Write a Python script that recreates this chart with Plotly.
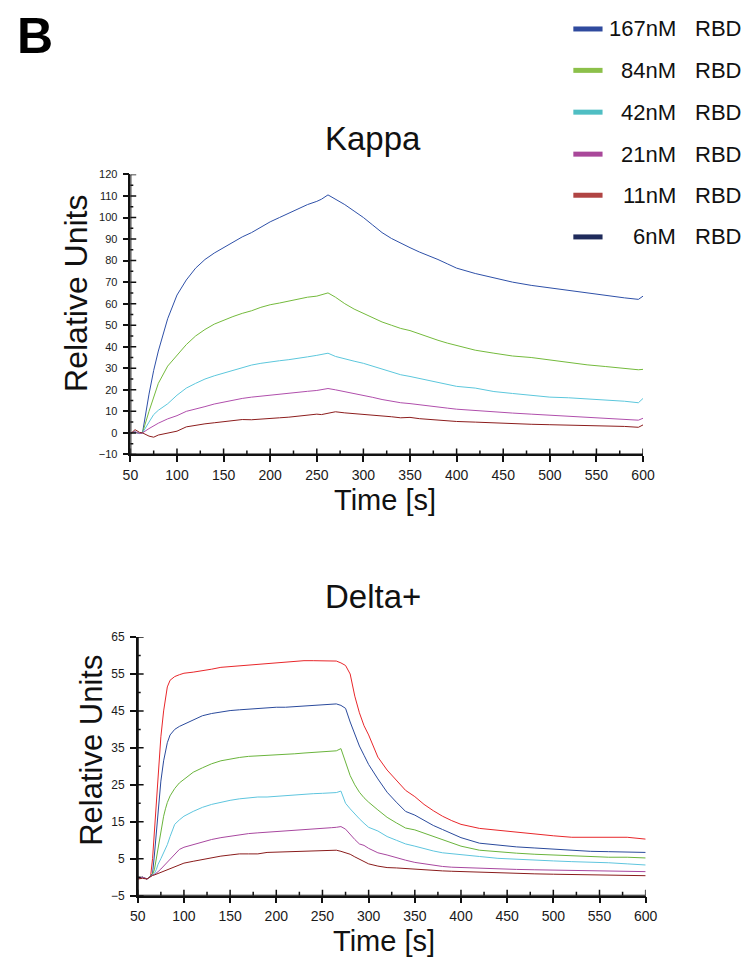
import plotly.graph_objects as go

# ---------------- data ----------------
# Kappa panel
t_kappa = [50, 55, 60, 63, 70, 75, 80, 90, 100, 110, 120, 130, 140, 150, 160, 170, 180, 190, 200,
           210, 220, 230, 240, 250, 255, 262, 270, 280, 290, 300, 310, 320, 330, 340, 350, 360,
           370, 380, 390, 400, 420, 440, 460, 480, 500, 520, 540, 560, 580, 595, 600]
kappa_167 = [0, 0.3, -0.3, 0, 18, 29, 38, 53, 64, 71, 76.5, 80.5, 83.5, 86, 88.5, 91, 93, 95.5, 98,
             100, 102, 104, 106, 107.5, 108.5, 110.5, 108.5, 106, 103, 100, 96.5, 93, 90.3, 88, 86, 84,
             82.3, 80.5, 78.5, 76.5, 74, 72, 70, 68.5, 67.3, 66, 65, 63.8, 62.7, 62, 63.5]
kappa_84 = [0, 0.3, -0.2, 0, 10, 17, 23, 31, 36, 41, 45, 48, 50.5, 52.3, 54, 55.5, 56.7, 58.3, 59.5,
            60.3, 61.3, 62, 63, 63.5, 64, 65, 63, 60, 57.5, 55.5, 53.5, 51.5, 50, 48.5, 47.5, 46,
            44.2, 43, 41.7, 40.7, 38.4, 37, 35.7, 35, 33.8, 32.6, 31.6, 30.8, 30, 29.3, 29.5]
kappa_42 = [0, 0.5, -0.3, 0, 5, 8.5, 10.5, 13.5, 17.5, 20.8, 23, 25, 26.5, 27.8, 29, 30.3, 31.5, 32.3, 33,
            33.5, 34, 34.8, 35.3, 36, 36.3, 37, 35.5, 34.3, 33.3, 32.3, 31, 29.5, 28.2, 27, 26.2, 25.3,
            24.5, 23.5, 22.5, 21.6, 20.8, 19.2, 18.3, 17.5, 16.6, 16.3, 15.8, 15.3, 14.7, 14, 16]
kappa_21 = [0, 0.5, -0.3, 0, 2, 3.3, 4.5, 6.5, 8, 10, 11, 12.2, 13.4, 14.3, 15.2, 16, 16.6, 17.1, 17.6,
            18.1, 18.4, 18.8, 19.3, 19.7, 20, 20.6, 20, 19.2, 18.2, 17.6, 16.5, 15.5, 14.6, 14, 13.6, 13,
            12.5, 12, 11.5, 11, 10.3, 9.8, 9.2, 8.7, 8.2, 7.8, 7.4, 7, 6.5, 5.9, 6.8]
kappa_11 = [-0.5, 1.5, 0.2, 0, -1.5, -2, -1, 0, 0.8, 2.8, 3.6, 4.2, 4.7, 5.2, 6, 6.2, 6.1, 6.5, 6.8,
            7, 7.3, 7.8, 8.2, 8.7, 8.5, 9.2, 9.8, 9.3, 9, 8.7, 8.2, 7.8, 7.5, 7, 7.2, 6.6,
            6.2, 5.8, 5.5, 5.3, 5, 4.6, 4.3, 4, 3.8, 3.6, 3.5, 3.3, 3, 2.6, 3.7]
kappa_series = [kappa_167, kappa_84, kappa_42, kappa_21, kappa_11]
kappa_colors = ["#2e50a8", "#74ba3c", "#5cc7dc", "#b04fac", "#8c1d1d"]

# Delta+ panel
t_delta = [50, 55, 60, 64, 66, 68, 70, 72, 75, 78, 80, 82, 85, 90, 95,
           100, 110, 120, 130, 140, 150, 160, 170, 180, 190, 200, 210, 220, 230, 240, 250, 260,
           265, 270, 275, 280, 285, 290, 295, 300,
           310, 320, 330, 340, 350, 360, 370, 380, 390, 400,
           420, 440, 460, 480, 500, 520, 540, 560, 580, 600]
delta_red = [-0.3, 0, -0.5, 0.5, 5, 12, 20, 28, 38, 45, 48.5, 51.5, 53.3, 54.3, 54.8,
             55.2, 55.5, 55.8, 56.3, 56.8, 57, 57.3, 57.3, 57.5, 57.9, 58, 58.2, 58.4, 58.6, 58.6, 58.6, 58.6,
             58.5, 58, 57.3, 55, 49, 44.5, 41, 38.5,
             32.5, 29, 26.2, 23.5, 21.8, 19.7, 18, 16.5, 15.3, 14.3,
             13.2, 12.7, 12.2, 11.5, 11.2, 10.8, 10.8, 10.9, 10.8, 10.3]
delta_blue = [-0.3, 0, -0.5, 0.5, 1, 6, 12, 18, 26, 31.5, 34, 36.4, 38.5, 40, 40.8,
              41.4, 42.5, 43.7, 44.3, 44.8, 45.1, 45.3, 45.5, 45.7, 45.9, 46, 46, 46.2, 46.3, 46.5, 46.6, 46.8,
              46.9, 46.5, 45.7, 42, 38.5, 35.5, 33, 30.5,
              26.6, 23, 20.3, 17.8, 16.8, 15.4, 14, 12.9, 11.8, 10.7,
              9.2, 8.6, 8.2, 7.9, 7.6, 7.2, 7, 6.9, 6.8, 6.7]
delta_green = [-0.3, 0, -0.5, 0.5, 0.8, 2, 5, 8, 12, 16.5, 18.5, 20.2, 22, 24, 25.5,
               26.5, 28.4, 29.6, 30.7, 31.5, 32, 32.4, 32.7, 32.8, 33.1, 33.2, 33.2, 33.4, 33.6, 33.8, 33.9, 34,
               34.2, 34.8, 31, 27.5, 25, 23, 21.5, 20.3,
               18.2, 16.2, 14.7, 13.3, 12.8, 11.9, 10.9, 10.1, 9.2, 8.4,
               7.3, 6.8, 6.5, 6.2, 6, 5.8, 5.5, 5.4, 5.4, 5.2]
delta_cyan = [-0.3, 0, -0.5, 0.3, 0.5, 1, 2, 3.5, 5, 6.5, 7.5, 8.8, 11, 14.3, 15.5,
              16.5, 17.8, 18.9, 19.7, 20.3, 20.8, 21.2, 21.5, 21.7, 21.7, 21.9, 22.1, 22.3, 22.6, 22.6, 22.7, 22.8,
              22.9, 23.3, 20, 18.5, 17, 15.8, 14.6, 13.5,
              12.5, 11, 10, 9, 8.4, 7.7, 7.1, 6.6, 6.4, 6.2,
              5.6, 5.1, 4.8, 4.6, 4.4, 4.2, 4.1, 3.9, 3.6, 3.3]
delta_magenta = [-0.3, 0, -0.5, 0.3, 0.5, 0.7, 1, 1.5, 2.2, 3, 3.5, 4.2, 5, 6.2, 7.5,
                 8.1, 8.8, 9.6, 10.2, 10.7, 11.1, 11.5, 11.8, 12, 12.2, 12.3, 12.5, 12.7, 12.8, 13, 13.2, 13.4,
                 13.5, 13.7, 13, 11.5, 10.2, 9, 8.6, 7.8,
                 6.6, 6, 5.2, 4.6, 4, 3.6, 3.2, 2.9, 2.7, 2.6,
                 2.3, 2.2, 2.1, 2, 1.9, 1.8, 1.7, 1.7, 1.6, 1.5]
delta_darkred = [-0.5, -0.3, -0.5, 0.3, 0.5, 0.6, 0.8, 1, 1.3, 1.7, 2, 2.2, 2.5, 3, 3.5,
                 3.8, 4.3, 4.8, 5.2, 5.7, 6, 6.3, 6.3, 6.3, 6.7, 6.8, 6.8, 6.9, 7, 7, 7.1, 7.2,
                 7.3, 7, 6.6, 6.2, 5.5, 4.8, 4.3, 3.6,
                 3, 2.6, 2.5, 2.3, 2.2, 2, 1.8, 1.7, 1.6, 1.5,
                 1.3, 1.1, 1, 0.9, 0.8, 0.7, 0.6, 0.6, 0.5, 0.4]
delta_series = [delta_red, delta_blue, delta_green, delta_cyan, delta_magenta, delta_darkred]
delta_colors = ["#e8262a", "#2a4a9c", "#6ab43c", "#5ec5de", "#a8479f", "#8a1c1c"]

legend_conc = ["167nM", "84nM", "42nM", "21nM", "11nM", "6nM"]
legend_colors = ["#2f4a9e", "#8cc04a", "#4fbec3", "#a9489a", "#b04443", "#1f2b5b"]
legend_unit = "RBD"

x_range = [50, 600]
x_major = list(range(50, 601, 50))
x_minor = list(range(75, 576, 50))
kappa_range = [-10, 120]
kappa_major = list(range(-10, 121, 10))
kappa_minor = list(range(-5, 116, 10))
delta_range = [-5, 65]
delta_major = list(range(-5, 66, 10))
delta_minor = list(range(0, 61, 10))

# ---------------- figure ----------------
W, H = 756, 967
FONT = "Liberation Sans, Arial, sans-serif"
AXIS_COLOR = "#111111"


def px(x):
    return x / W


def py(y):
    return 1 - y / H


fig = go.Figure()
for vals, col in zip(kappa_series, kappa_colors):
    fig.add_trace(go.Scatter(x=t_kappa, y=vals, mode="lines", line=dict(color=col, width=1),
                             xaxis="x", yaxis="y", showlegend=False, hoverinfo="skip"))
for vals, col in zip(delta_series, delta_colors):
    fig.add_trace(go.Scatter(x=t_delta, y=vals, mode="lines", line=dict(color=col, width=1),
                             xaxis="x2", yaxis="y2", showlegend=False, hoverinfo="skip"))

k_xdom = [px(125.7), px(652.3)]
k_ydom = [py(454.0), py(169.9)]
d_xdom = [px(133.3), px(655.0)]
d_ydom = [py(901.7), py(639.3)]


def axis_frame(xa, ya, xdom, ydom, yrng, ymajor, yminor):
    """Axis lines and crossing tick marks, drawn as line traces on the panel's own axes."""
    ux = (x_range[1] - x_range[0]) / ((xdom[1] - xdom[0]) * W)
    uy = (yrng[1] - yrng[0]) / ((ydom[1] - ydom[0]) * H)
    x0, y0 = x_range[0], yrng[0]
    lx = [x0, x_range[1], None, x0, x0]
    ly = [y0, y0, None, y0, yrng[1]]
    tx, ty = [], []
    for t in x_major:
        tx += [t, t, None]
        ty += [y0 - 6 * uy, y0 + 6 * uy, None]
    for t in x_minor:
        tx += [t, t, None]
        ty += [y0, y0 + 4 * uy, None]
    for v in ymajor:
        tx += [x0 - 6 * ux, x0 + 6 * ux, None]
        ty += [v, v, None]
    for v in yminor:
        tx += [x0 - 3 * ux, x0 + 3 * ux, None]
        ty += [v, v, None]
    fig.add_trace(go.Scatter(x=lx, y=ly, mode="lines", line=dict(color=AXIS_COLOR, width=2),
                             xaxis=xa, yaxis=ya, cliponaxis=False, showlegend=False,
                             hoverinfo="skip"))
    fig.add_trace(go.Scatter(x=tx, y=ty, mode="lines", line=dict(color=AXIS_COLOR, width=1.5),
                             xaxis=xa, yaxis=ya, cliponaxis=False, showlegend=False,
                             hoverinfo="skip"))


axis_frame("x", "y", k_xdom, k_ydom, kappa_range, kappa_major, kappa_minor)
axis_frame("x2", "y2", d_xdom, d_ydom, delta_range, delta_major, delta_minor)


def xax(dom, anchor):
    return dict(domain=dom, anchor=anchor, range=x_range, tickmode="array", tickvals=x_major,
                ticks="outside", ticklen=6, tickwidth=1.5, tickcolor=AXIS_COLOR,
                showline=True, linecolor=AXIS_COLOR, linewidth=1.5,
                showgrid=False, zeroline=False, ticklabelstandoff=1,
                tickfont=dict(family=FONT, size=14, color="#1a1a1a"))


def yax(dom, anchor, rng, major, fsize):
    return dict(domain=dom, anchor=anchor, range=rng, tickmode="array", tickvals=major,
                ticks="outside", ticklen=6, tickwidth=1.5, tickcolor=AXIS_COLOR,
                showline=True, linecolor=AXIS_COLOR, linewidth=1.5,
                showgrid=False, zeroline=False, ticklabelstandoff=3,
                tickfont=dict(family=FONT, size=fsize, color="#1a1a1a"))


shapes = []
annotations = [
    dict(text="B", x=px(28), y=py(29), font=dict(family=FONT, size=50, color="black", weight="bold")),
    dict(text="Kappa", x=px(375), y=py(133), font=dict(family=FONT, size=33, color="#111")),
    dict(text="Delta+", x=px(375), y=py(598), font=dict(family=FONT, size=33, color="#111")),
    dict(text="Time [s]", x=px(387), y=py(500), font=dict(family=FONT, size=29, color="#111")),
    dict(text="Time [s]", x=px(386), y=py(948), font=dict(family=FONT, size=29, color="#111")),
    dict(text="Relative Units", x=px(70), y=py(291), textangle=-90,
         font=dict(family=FONT, size=32, color="#111")),
    dict(text="Relative Units", x=px(85), y=py(754), textangle=-90,
         font=dict(family=FONT, size=31, color="#111")),
]
leg_y = [22.3, 64.3, 106.7, 149.3, 191.0, 233.3]
for conc, col, yy in zip(legend_conc, legend_colors, leg_y):
    shapes.append(dict(type="line", xref="paper", yref="paper", x0=px(580.7), x1=px(610.7),
                       y0=py(yy), y1=py(yy), line=dict(color=col, width=5)))
    annotations.append(dict(text=conc, x=px(688), y=py(yy), xanchor="right",
                            font=dict(family=FONT, size=22, color="#111")))
    annotations.append(dict(text=legend_unit, x=px(704), y=py(yy), xanchor="left",
                            font=dict(family=FONT, size=22, color="#111")))

for a in annotations:
    a.setdefault("xanchor", "center")
    a.update(xref="paper", yref="paper", yanchor="middle", showarrow=False)

fig.update_layout(
    width=W, height=H, margin=dict(l=0, r=0, t=0, b=0),
    paper_bgcolor="white", plot_bgcolor="white", showlegend=False,
    xaxis=xax(k_xdom, "y"),
    yaxis=yax(k_ydom, "x", kappa_range, kappa_major, 11),
    xaxis2=xax(d_xdom, "y2"),
    yaxis2=yax(d_ydom, "x2", delta_range, delta_major, 12),
    annotations=annotations, shapes=shapes,
)

fig.write_html("out.html")
